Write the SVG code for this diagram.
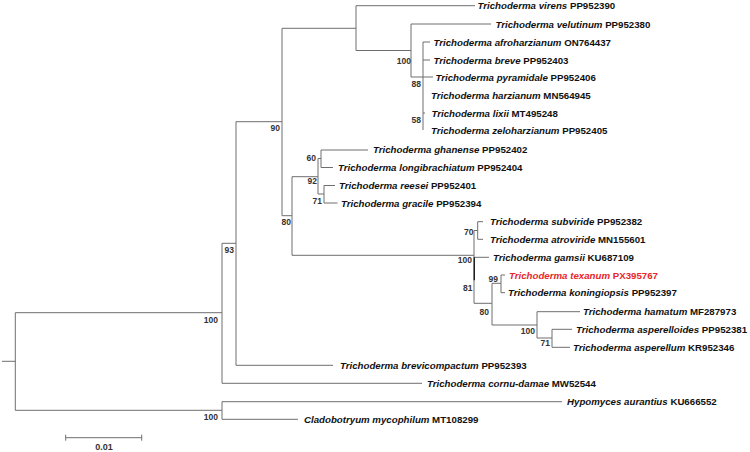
<svg xmlns="http://www.w3.org/2000/svg" width="750" height="452" viewBox="0 0 750 452">
<style>
.br{stroke:#6e6e6e;stroke-width:1;fill:none}
.bk{stroke:#222;stroke-width:1.4;fill:none}
.lf{font-family:"Liberation Sans",Arial,sans-serif;font-size:9.7px;font-weight:bold;fill:#111}
.lf .sp{font-style:italic}
.red{fill:#e8262a}
.bs{font-family:"Liberation Sans",Arial,sans-serif;font-size:8.5px;font-weight:bold;fill:#333;text-anchor:end}
.sc{font-family:"Liberation Sans",Arial,sans-serif;font-size:9px;font-weight:bold;fill:#333;text-anchor:middle}
</style>
<rect width="750" height="452" fill="#fff"/>
<g id="connectors">
<path class="br" d="M2,361.3H15.3M15.3,312.7V410.3M15.3,312.7H222M15.3,410.3H222"/>
<path class="br" d="M222,243.3V383.3M222,243.3H236M222,383.3H422"/>
<path class="br" d="M236,121.7V365.3M236,365.3H333M236,121.7H282"/>
<path class="br" d="M282,28.3V215.7M282,28.3H356M282,215.7H292"/>
<path class="br" d="M356,5.7V50.5M356,5.7H475M356,50.5H411"/>
<path class="br" d="M411,24V77M411,24H491M411,77H433"/>
<path class="br" d="M423,42V130M423,42H430M423,60H430M423,113H425"/>
<path class="br" d="M292,176.7V255.3M292,176.7H318M292,255.3H474"/>
<path class="br" d="M318,158.5V194M318,158.5H321M318,194H324"/>
<path class="br" d="M321,150V167.5M321,150H368M321,167.5H333"/>
<path class="br" d="M324,185.5V203M324,185.5H335M324,203H337.5"/>
<path class="br" d="M474,230.5V303.3M474,230.5H477.7M474,257.3H489"/>
<path class="bk" d="M474.3,257.3V280.3"/>
<path class="br" d="M477.7,221.7V239.3M477.7,221.7H483M477.7,239.3H483"/>
<path class="br" d="M474,303.3H492M492,283.3V325M492,283.3H501M492,325H537"/>
<path class="br" d="M501,275V292.7M501,275H505M501,292.7H505"/>
<path class="br" d="M537,311.7V338M537,311.7H580M537,338H552"/>
<path class="br" d="M552,329.3V347.3M552,329.3H572M552,347.3H570"/>
<path class="br" d="M222,401.7V419.3M222,401.7H562M222,419.3H298"/>
<path class="br" d="M65.7,437.7H141.7M65.7,434.7V440.7M141.7,434.7V440.7"/>
</g>
<g id="n_boot">
<text class="bs" x="218" y="323">100</text>
<text class="bs" x="234" y="253">93</text>
<text class="bs" x="280" y="131">90</text>
<text class="bs" x="411" y="64">100</text>
<text class="bs" x="421" y="87">88</text>
<text class="bs" x="421" y="123">58</text>
<text class="bs" x="291" y="225">80</text>
<text class="bs" x="317" y="184">92</text>
<text class="bs" x="316" y="161">60</text>
<text class="bs" x="322" y="204">71</text>
<text class="bs" x="472" y="263">100</text>
<text class="bs" x="473.5" y="235">70</text>
<text class="bs" x="472.5" y="290.5">81</text>
<text class="bs" x="489" y="315">80</text>
<text class="bs" x="498" y="282">99</text>
<text class="bs" x="535" y="334">100</text>
<text class="bs" x="550" y="346">71</text>
<text class="bs" x="218" y="420">100</text>
</g>
<g id="l01"><text class="lf" x="477.5" y="9.2"><tspan class="sp">Trichoderma virens</tspan> PP952390</text></g>
<g id="l02"><text class="lf" x="495.5" y="27.5"><tspan class="sp">Trichoderma velutinum</tspan> PP952380</text></g>
<g id="l03"><text class="lf" x="433.5" y="45.5"><tspan class="sp">Trichoderma afroharzianum</tspan> ON764437</text></g>
<g id="l04"><text class="lf" x="433.5" y="63.5"><tspan class="sp">Trichoderma breve</tspan> PP952403</text></g>
<g id="l05"><text class="lf" x="435.5" y="80.5"><tspan class="sp">Trichoderma pyramidale</tspan> PP952406</text></g>
<g id="l06"><text class="lf" x="431" y="99"><tspan class="sp">Trichoderma harzianum</tspan> MN564945</text></g>
<g id="l07"><text class="lf" x="431.5" y="116.5"><tspan class="sp">Trichoderma lixii</tspan> MT495248</text></g>
<g id="l08"><text class="lf" x="431" y="133.5"><tspan class="sp">Trichoderma zeloharzianum</tspan> PP952405</text></g>
<g id="l09"><text class="lf" x="373" y="153"><tspan class="sp">Trichoderma ghanense</tspan> PP952402</text></g>
<g id="l10"><text class="lf" x="338" y="171"><tspan class="sp">Trichoderma longibrachiatum</tspan> PP952404</text></g>
<g id="l11"><text class="lf" x="339" y="189"><tspan class="sp">Trichoderma reesei</tspan> PP952401</text></g>
<g id="l12"><text class="lf" x="341" y="206.5"><tspan class="sp">Trichoderma gracile</tspan> PP952394</text></g>
<g id="l13"><text class="lf" x="490" y="225.2"><tspan class="sp">Trichoderma subviride</tspan> PP952382</text></g>
<g id="l14"><text class="lf" x="490" y="242.8"><tspan class="sp">Trichoderma atroviride</tspan> MN155601</text></g>
<g id="l15"><text class="lf" x="493" y="260.8"><tspan class="sp">Trichoderma gamsii</tspan> KU687109</text></g>
<g id="l16"><text class="lf red" x="509" y="278.5"><tspan class="sp">Trichoderma texanum</tspan> PX395767</text></g>
<g id="l17"><text class="lf" x="508" y="296.2"><tspan class="sp">Trichoderma koningiopsis</tspan> PP952397</text></g>
<g id="l18"><text class="lf" x="583" y="315.2"><tspan class="sp">Trichoderma hamatum</tspan> MF287973</text></g>
<g id="l19"><text class="lf" x="576" y="332.8"><tspan class="sp">Trichoderma asperelloides</tspan> PP952381</text></g>
<g id="l20"><text class="lf" x="573" y="350.8"><tspan class="sp">Trichoderma asperellum</tspan> KR952346</text></g>
<g id="l21"><text class="lf" x="340" y="368.8"><tspan class="sp">Trichoderma brevicompactum</tspan> PP952393</text></g>
<g id="l22"><text class="lf" x="427" y="386.8"><tspan class="sp">Trichoderma cornu-damae</tspan> MW52544</text></g>
<g id="l23"><text class="lf" x="567" y="405.2"><tspan class="sp">Hypomyces aurantius</tspan> KU666552</text></g>
<g id="l24"><text class="lf" x="304" y="422.8"><tspan class="sp">Cladobotryum mycophilum</tspan> MT108299</text></g>
<g id="scale"><text class="sc" x="104" y="450">0.01</text></g>
</svg>
